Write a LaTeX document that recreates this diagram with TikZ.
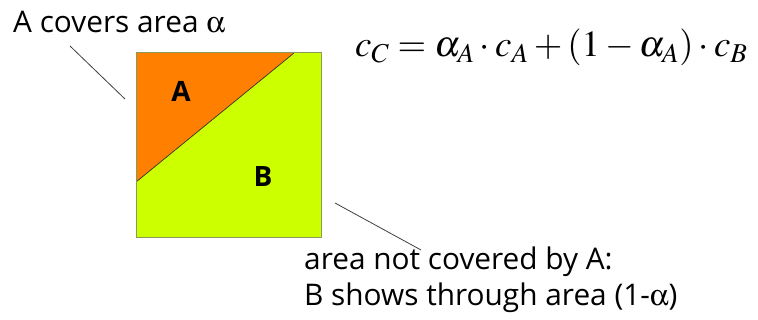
\documentclass[tikz,border=0pt]{standalone}
\usepackage{mathptmx}
\usepackage[Symbol]{upgreek}
\usepackage{fontspec}
\setmainfont{Open Sans}
\definecolor{aorange}{HTML}{FF8000}
\definecolor{blime}{HTML}{CCFF00}
\definecolor{edge}{HTML}{8A9A5B}
\begin{document}
\begin{tikzpicture}[x=1pt,y=-1pt,
  lbl/.style={inner sep=0pt,font=\fontsize{29.8}{36}\selectfont},
  leader/.style={draw=black!75,line width=0.8pt},
  big/.style={inner sep=0pt,font=\fontsize{28}{34}\selectfont\bfseries}]
\useasboundingbox[fill=white] (0,0) rectangle (758,320);
% square
\coordinate (sq1) at (136,53);
\coordinate (sq2) at (321,238);
\coordinate (d1) at (136,182);
\coordinate (d2) at (294,53);
\fill[blime] (sq1) rectangle (sq2);
\fill[aorange] (sq1) -- (d2) -- (d1) -- cycle;
\draw[black!80,line width=0.7pt] (d1) -- (d2);
\draw[edge,line width=1pt] (sq1) rectangle (sq2);
\node[big,anchor=center] (A) at (181,91) {A};
\node[big,anchor=center] (B) at (263,177) {B};
% labels
\node[lbl,anchor=base west] (la) at (13,33) {A covers area $\upalpha$};
\coordinate (l1s) at (70,46);
\coordinate (l1e) at (125,99);
\draw[leader] (l1s) -- (l1e);
\node[lbl,anchor=base west] (lb) at (304,270) {area not covered by A:};
\node[lbl,anchor=base west] (lc) at (304,306) {B shows through area (1-$\upalpha$)};
\coordinate (l2s) at (335,203);
\coordinate (l2e) at (421,250);
\draw[leader] (l2s) -- (l2e);
% equation
\node[inner sep=0pt,anchor=base west,font=\fontsize{36.8}{44}\selectfont] (eq) at (355,57)
  {$c_C=\alpha_A\cdot c_A+(1-\alpha_A)\cdot c_B$};
\end{tikzpicture}
\end{document}
